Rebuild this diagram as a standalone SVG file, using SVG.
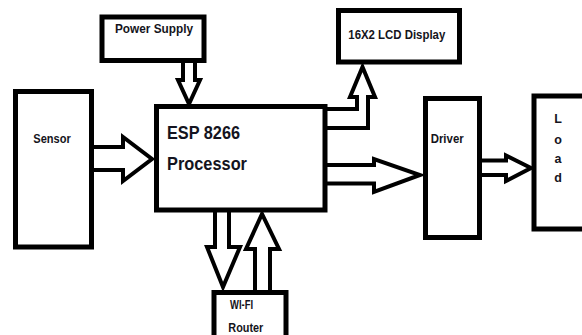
<svg xmlns="http://www.w3.org/2000/svg" width="582" height="335" viewBox="0 0 582 335">
<style>
.box{fill:none;stroke:#000;stroke-width:5}
.arr{fill:#fff;stroke:#000;stroke-width:4;stroke-linejoin:miter}
.t{font-family:"Liberation Sans",Arial,sans-serif;font-weight:bold;fill:#141420}
</style>
<rect width="582" height="335" fill="#fff"/>
<g id="connectors">
<polygon class="arr" points="183,61 183,80 178,80 189,104 200,80 195,80 195,61"/>
<polygon class="arr" points="92,147 123,147 123,137 152,159 123,181 123,170 92,170"/>
<polygon class="arr" points="325,109 357,109 357,97 350,97 362.5,67 375,97 368,97 368,128 325,128"/>
<polygon class="arr" points="325,165 374,165 374,159 420,175 374,192 374,183.5 325,183.5"/>
<polygon class="arr" points="480,160.5 506,160.5 506,155.5 531,168 506,181 506,175 480,175"/>
<polygon class="arr" points="215,210 215,247 207,247 223,287 240,247 229,247 229,210"/>
<polygon class="arr" points="255,292 255,249 246,249 262,214 279,249 270,249 270,292"/>
</g>
<g id="power-supply">
<rect class="box" x="102" y="17" width="102" height="43.5"/>
<text class="t" x="115" y="33" font-size="13.5" textLength="78" lengthAdjust="spacingAndGlyphs">Power Supply</text>
</g>
<g id="sensor">
<rect class="box" x="15.5" y="91.5" width="76" height="155.5"/>
<text class="t" x="33.3" y="143" font-size="13.5" textLength="37.5" lengthAdjust="spacingAndGlyphs">Sensor</text>
</g>
<g id="esp8266">
<rect class="box" x="156.5" y="106.5" width="168.5" height="103.5"/>
<text class="t" x="167" y="139" font-size="18" textLength="73" lengthAdjust="spacingAndGlyphs">ESP 8266</text>
<text class="t" x="167" y="170" font-size="18" textLength="80" lengthAdjust="spacingAndGlyphs">Processor</text>
</g>
<g id="lcd">
<rect class="box" x="338.5" y="10.5" width="121" height="51.5"/>
<text class="t" x="348.3" y="39" font-size="12.5" textLength="97" lengthAdjust="spacingAndGlyphs">16X2 LCD Display</text>
</g>
<g id="driver">
<rect class="box" x="425.5" y="98.5" width="54" height="139"/>
<text class="t" x="430.7" y="143" font-size="13.5" textLength="33" lengthAdjust="spacingAndGlyphs">Driver</text>
</g>
<g id="load">
<rect class="box" x="534" y="96" width="60" height="133"/>
<text class="t" x="558" y="123" font-size="12.5" text-anchor="middle">L</text>
<text class="t" x="558" y="143.5" font-size="12.5" text-anchor="middle">o</text>
<text class="t" x="558" y="163" font-size="12.5" text-anchor="middle">a</text>
<text class="t" x="558" y="182" font-size="12.5" text-anchor="middle">d</text>
</g>
<g id="wifi-router">
<rect class="box" x="214" y="292.5" width="72" height="60"/>
<text class="t" x="230" y="309" font-size="12" textLength="23" lengthAdjust="spacingAndGlyphs">WI-FI</text>
<text class="t" x="228.3" y="331.5" font-size="12" textLength="35" lengthAdjust="spacingAndGlyphs">Router</text>
</g>
</svg>
